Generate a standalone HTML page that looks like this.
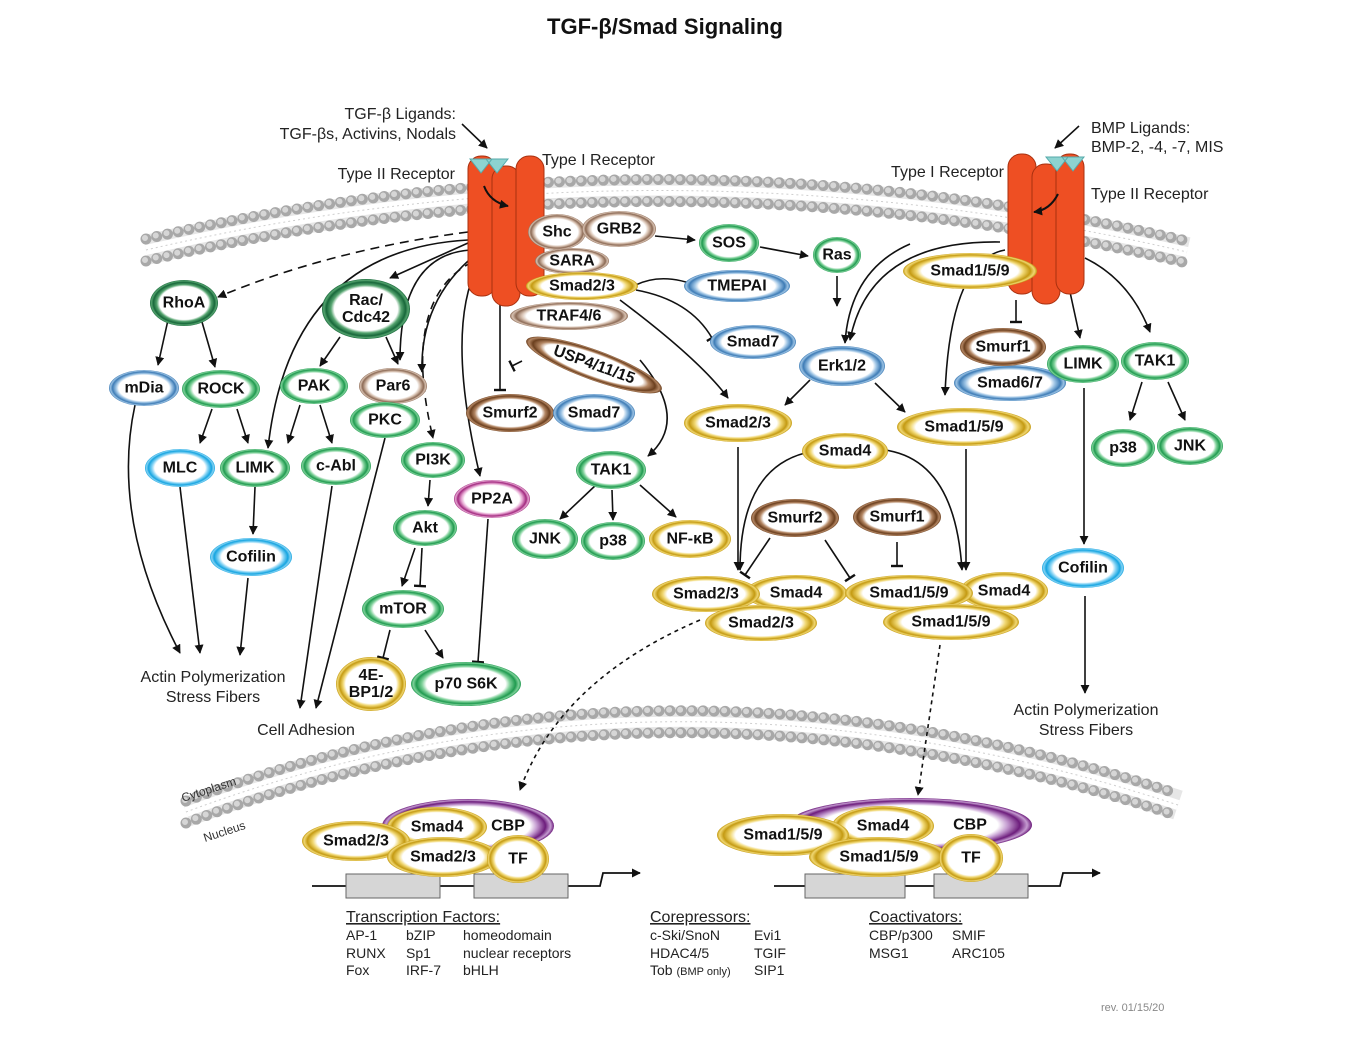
<!DOCTYPE html>
<html><head><meta charset="utf-8"><style>
html,body{margin:0;padding:0;background:#fff}
svg{display:block;font-family:"Liberation Sans",Arial,sans-serif}
.nt{font-weight:bold;font-size:16px;text-anchor:middle;dominant-baseline:central;fill:#111}
.lb{font-size:16px;fill:#222}
.sm{font-size:14px;fill:#222}
</style></head><body>
<svg id="s" width="1347" height="1038" viewBox="0 0 1347 1038" xmlns="http://www.w3.org/2000/svg">
<defs>
<marker id="ah" viewBox="0 0 10 10" refX="9" refY="5" markerWidth="9" markerHeight="9" markerUnits="userSpaceOnUse" orient="auto"><path d="M0,0L10,5L0,10z" fill="#111"/></marker>
<marker id="tb" viewBox="0 0 10 10" refX="5" refY="5" markerWidth="12" markerHeight="12" markerUnits="userSpaceOnUse" orient="auto"><path d="M5,0L5,10" stroke="#111" stroke-width="2"/></marker>
</defs>
<text x="665" y="34" text-anchor="middle" font-size="22" font-weight="bold" fill="#111">TGF-β/Smad Signaling</text>
<g id="mem"></g>
<g id="edges"></g>
<g id="rec"></g>
<g id="nodes"></g>
<g id="txt">
<text class="lb" x="456" y="119" text-anchor="end">TGF-β Ligands:</text>
<text class="lb" x="456" y="139" text-anchor="end">TGF-βs, Activins, Nodals</text>
<text class="lb" x="455" y="179" text-anchor="end">Type II Receptor</text>
<text class="lb" x="542" y="165">Type I Receptor</text>
<text class="lb" x="1004" y="177" text-anchor="end">Type I Receptor</text>
<text class="lb" x="1091" y="133">BMP Ligands:</text>
<text class="lb" x="1091" y="152">BMP-2, -4, -7, MIS</text>
<text class="lb" x="1091" y="199">Type II Receptor</text>
<text class="lb" x="213" y="682" text-anchor="middle">Actin Polymerization</text>
<text class="lb" x="213" y="702" text-anchor="middle">Stress Fibers</text>
<text class="lb" x="306" y="735" text-anchor="middle">Cell Adhesion</text>
<text class="lb" x="1086" y="715" text-anchor="middle">Actin Polymerization</text>
<text class="lb" x="1086" y="735" text-anchor="middle">Stress Fibers</text>
<text font-size="12" fill="#333" transform="translate(183,802) rotate(-18)">Cytoplasm</text>
<text font-size="12" fill="#333" transform="translate(205,842) rotate(-18)">Nucleus</text>
<text class="lb" x="346" y="922" text-decoration="underline">Transcription Factors:</text>
<text class="sm" x="346" y="940">AP-1</text><text class="sm" x="406" y="940">bZIP</text><text class="sm" x="463" y="940">homeodomain</text>
<text class="sm" x="346" y="958">RUNX</text><text class="sm" x="406" y="958">Sp1</text><text class="sm" x="463" y="958">nuclear receptors</text>
<text class="sm" x="346" y="975">Fox</text><text class="sm" x="406" y="975">IRF-7</text><text class="sm" x="463" y="975">bHLH</text>
<text class="lb" x="650" y="922" text-decoration="underline">Corepressors:</text>
<text class="sm" x="650" y="940">c-Ski/SnoN</text><text class="sm" x="754" y="940">Evi1</text>
<text class="sm" x="650" y="958">HDAC4/5</text><text class="sm" x="754" y="958">TGIF</text>
<text class="sm" x="650" y="975">Tob <tspan font-size="11">(BMP only)</tspan></text><text class="sm" x="754" y="975">SIP1</text>
<text class="lb" x="869" y="922" text-decoration="underline">Coactivators:</text>
<text class="sm" x="869" y="940">CBP/p300</text><text class="sm" x="952" y="940">SMIF</text>
<text class="sm" x="869" y="958">MSG1</text><text class="sm" x="952" y="958">ARC105</text>
<text font-size="11" fill="#888" x="1101" y="1011">rev. 01/15/20</text>
</g>
<script>
var NS="http://www.w3.org/2000/svg";
function mk(t,a,p){var e=document.createElementNS(NS,t);for(var k in a)e.setAttribute(k,a[k]);(p||document.getElementById('s')).appendChild(e);return e;}
var cols={g:["#1f9a4f","#7fd19a"],dg:["#17673a","#55a46f"],b:["#3d7bb5","#9cc3e4"],c:["#14a4e0","#86d3f4"],y:["#c49a12","#f0d772"],br:["#6b3f1e","#b48764"],lb:["#8c6a55","#d8c2b2"],p:["#6d1d7c","#c49bd0"],pk:["#a2287f","#e6a7d2"]};
var defs=document.querySelector('defs');
for(var c in cols){var g=mk('radialGradient',{id:'g'+c,cx:'0.5',cy:'0.5',r:'0.5'},defs);
[[0,'#fff'],[0.72,'#fff'],[0.8,cols[c][1]],[0.9,cols[c][0]],[0.96,cols[c][1]],[1,cols[c][0]]].forEach(function(s){mk('stop',{offset:s[0],'stop-color':s[1]},g);});}
var mem=document.getElementById('mem');
function membrane(d){
 mk('path',{d:d,fill:'none',stroke:'#e6e6e6','stroke-width':30},mem);
 mk('path',{d:d,fill:'none',stroke:'#fff','stroke-width':10},mem);
 mk('path',{d:d,fill:'none',stroke:'#cfcfcf','stroke-width':1,'stroke-dasharray':'2 3'},mem);}
function beads(d,off){mk('path',{d:d,fill:'none',stroke:'#a8a8a8','stroke-width':11,'stroke-linecap':'round','stroke-dasharray':'0 11',transform:'translate(0,'+off+')'},mem);
 mk('path',{d:d,fill:'none',stroke:'#d6d6d6','stroke-width':6,'stroke-linecap':'round','stroke-dasharray':'0 11',transform:'translate(-1,'+(off-1)+')'},mem);}
var md="M146,250 Q660,130 1187,252";
membrane(md);beads(md,-11);beads(md,11);
var nd="M186,812 Q660,635 1178,805";
membrane(nd);beads(nd,-11);beads(nd,11);
var E=document.getElementById('edges');
function ln(d,m,dash){var a={d:d,fill:'none',stroke:'#111','stroke-width':1.6};if(m)a['marker-end']='url(#'+m+')';if(dash)a['stroke-dasharray']=dash;mk('path',a,E);}
[["M462,124L487,148","ah"],["M1079,126L1055,148","ah"],
["M468,232Q330,250 218,297","ah","9 6"],["M468,243L390,278","ah"],["M470,250Q400,255 400,360","ah"],["M475,255Q420,300 422,372","ah"],
["M472,262Q400,300 433,438","ah","8 6"],["M468,240Q290,250 268,448","ah"],["M478,265Q445,330 480,476","ah"],
["M500,303L500,390","tb"],["M522,361L512,366","tb"],
["M168,320L158,365","ah"],["M202,322L215,367","ah"],["M340,337L320,366","ah"],["M386,337L398,364","ah"],
["M300,405L288,443","ah"],["M320,405L332,443","ah"],["M212,409L200,443","ah"],["M237,409L248,443","ah"],
["M255,487L253,534","ah"],["M135,405Q110,520 180,653","ah"],["M180,487L200,653","ah"],["M248,578L240,655","ah"],
["M332,486L300,708","ah"],["M385,438L316,708","ah"],
["M430,480L428,506","ah"],["M415,548L402,586","ah"],["M422,548L420,586","tb"],["M390,630L383,658","tb"],["M425,630L443,658","ah"],["M488,519L478,662","tb"],
["M655,236L695,240","ah"],["M760,247L808,256","ah"],["M837,276L837,306","ah"],["M910,244Q850,270 845,343","ah"],
["M630,288Q660,270 700,287","tb"],["M636,290Q690,300 712,338","tb"],["M620,300Q700,360 728,398","ah"],["M640,360Q690,420 648,456","ah"],
["M810,380L785,405","ah"],["M875,383L905,412","ah"],
["M597,484L560,519","ah"],["M612,490L613,520","ah"],["M640,485L676,517","ah"],
["M738,447L738,570","ah"],["M805,453Q740,470 740,570","ah"],["M885,450Q955,460 962,570","ah"],["M966,449L966,570","ah"],
["M770,538L745,575","tb"],["M825,540L850,578","tb"],["M897,542L897,566","tb"],
["M700,620Q560,680 520,790","ah","4 4"],["M940,645L918,795","ah","4 4"],
["M1005,250Q950,260 945,395","ah"],["M1000,242Q870,240 850,340","ah"],["M1016,300L1016,322","tb"],
["M1070,292L1080,338","ah"],["M1085,258Q1130,280 1150,332","ah"],["M1142,382L1130,420","ah"],["M1168,382L1185,420","ah"],
["M1084,388L1084,544","ah"],["M1085,596L1085,693","ah"]
].forEach(function(a){ln(a[0],a[1],a[2]);});
[[312,640,346,440,474,568],[774,1100,805,905,934,1028]].forEach(function(d){
 mk('path',{d:'M'+d[0]+',886L'+(d[1]-40)+',886L'+(d[1]-37)+',873L'+d[1]+',873',fill:'none',stroke:'#111','stroke-width':1.8,'marker-end':'url(#ah)'},E);
 mk('rect',{x:d[2],y:874,width:d[3]-d[2],height:24,fill:'#d6d6d6',stroke:'#666'},E);
 mk('rect',{x:d[4],y:874,width:d[5]-d[4],height:24,fill:'#d6d6d6',stroke:'#666'},E);});
var R=document.getElementById('rec');
function receptor(x,y,flip){var g=mk('g',{},R);
 [0,24,48].forEach(function(dx){mk('rect',{x:x+dx,y:y+(dx==24?10:0),width:28,height:140,rx:13,fill:'#ee4f23',stroke:'#a8300f','stroke-width':1},g);});
 mk('path',{d:'M'+(x+2)+','+(y+3)+'l22,0l-11,14z M'+(x+18)+','+(y+3)+'l22,0l-11,14z',fill:'#8dd3d0',stroke:'#5aa',transform:flip?'translate(36,0)':''},g);
 mk('path',{d:flip?'M'+(x+50)+','+(y+40)+'q-8,16 -24,18':'M'+(x+16)+','+(y+30)+'q6,16 24,20',fill:'none',stroke:'#111','stroke-width':2,'marker-end':'url(#ah)'},g);}
receptor(468,156,false);receptor(1008,154,true);
var N=document.getElementById('nodes');
var nodes=[["RhoA",184,303,34,23,"dg"],["Rac/\nCdc42",366,309,44,30,"dg"],["mDia",144,388,35,18,"b"],["ROCK",221,389,39,19,"g"],["PAK",314,386,34,18,"g"],["Par6",393,386,34,18,"lb"],["PKC",385,420,35,18,"g"],
["MLC",180,468,35,19,"c"],["LIMK",255,468,35,19,"g"],["c-Abl",336,466,35,19,"g"],["PI3K",433,460,32,18,"g"],["Cofilin",251,557,41,19,"c"],["Akt",425,528,32,18,"g"],["PP2A",492,499,38,19,"pk"],["mTOR",403,609,41,19,"g"],
["4E-\nBP1/2",371,684,35,27,"y"],["p70 S6K",466,684,55,22,"g"],
["TRAF4/6",569,316,59,14,"lb"],["Shc",557,232,29,18,"lb"],["GRB2",619,229,37,18,"lb"],["SARA",572,261,37,13,"lb"],["Smad2/3",582,286,56,14,"y"],
["USP4/11/15",594,365,72,15,"br",20],["Smurf2",510,413,44,19,"br"],["Smad7",594,413,41,19,"b"],["TMEPAI",737,286,53,16,"b"],["Smad7",753,342,43,17,"b"],
["SOS",729,243,30,19,"g"],["Ras",837,255,24,18,"g"],["Erk1/2",842,366,43,20,"b"],["TAK1",611,470,35,19,"g"],["JNK",545,539,33,20,"g"],["p38",613,541,32,19,"g"],["NF-κB",690,539,41,19,"y"],
["Smad2/3",738,423,54,19,"y"],["Smad4",845,451,43,18,"y"],["Smurf2",795,518,44,19,"br"],["Smurf1",897,517,44,19,"br"],
["Smad4",796,593,51,18,"y"],["Smad2/3",706,594,54,18,"y"],["Smad2/3",761,623,56,18,"y"],
["Smad4",1004,591,44,19,"y"],["Smad1/5/9",909,593,64,18,"y"],["Smad1/5/9",951,622,68,18,"y"],
["Smad1/5/9",964,427,67,19,"y"],["Smad1/5/9",970,271,67,18,"y"],["Smad6/7",1010,383,56,18,"b"],["Smurf1",1003,347,43,19,"br"],
["LIMK",1083,364,36,19,"g"],["TAK1",1155,361,34,19,"g"],["p38",1123,448,32,19,"g"],["JNK",1190,446,33,19,"g"],["Cofilin",1083,568,41,20,"c"],
["CBP",468,826,86,27,"p"],["Smad4",437,827,50,20,"y"],["Smad2/3",356,841,54,20,"y"],["Smad2/3",443,857,56,20,"y"],["TF",518,859,31,24,"y"],
["CBP",910,825,122,27,"p"],["Smad4",883,826,51,20,"y"],["Smad1/5/9",783,835,66,21,"y"],["Smad1/5/9",879,857,70,20,"y"],["TF",971,858,32,24,"y"]];
nodes.forEach(function(n){var g=mk('g',{transform:'translate('+n[1]+','+n[2]+')'+(n[6]?' rotate('+n[6]+')':'')},N);
 
 
 mk('ellipse',{cx:0,cy:0,rx:n[3],ry:n[4],fill:'url(#g'+n[5]+')'},g);
 var lines=n[0].split('\n');
 var ox=n[0]=="CBP"?(n[3]>100?60:40):0;
 lines.forEach(function(l,i){var t=mk('text',{x:ox,y:(i-(lines.length-1)/2)*17,'class':'nt'},g);t.textContent=l;});});
</script>
</svg>
</body></html>
